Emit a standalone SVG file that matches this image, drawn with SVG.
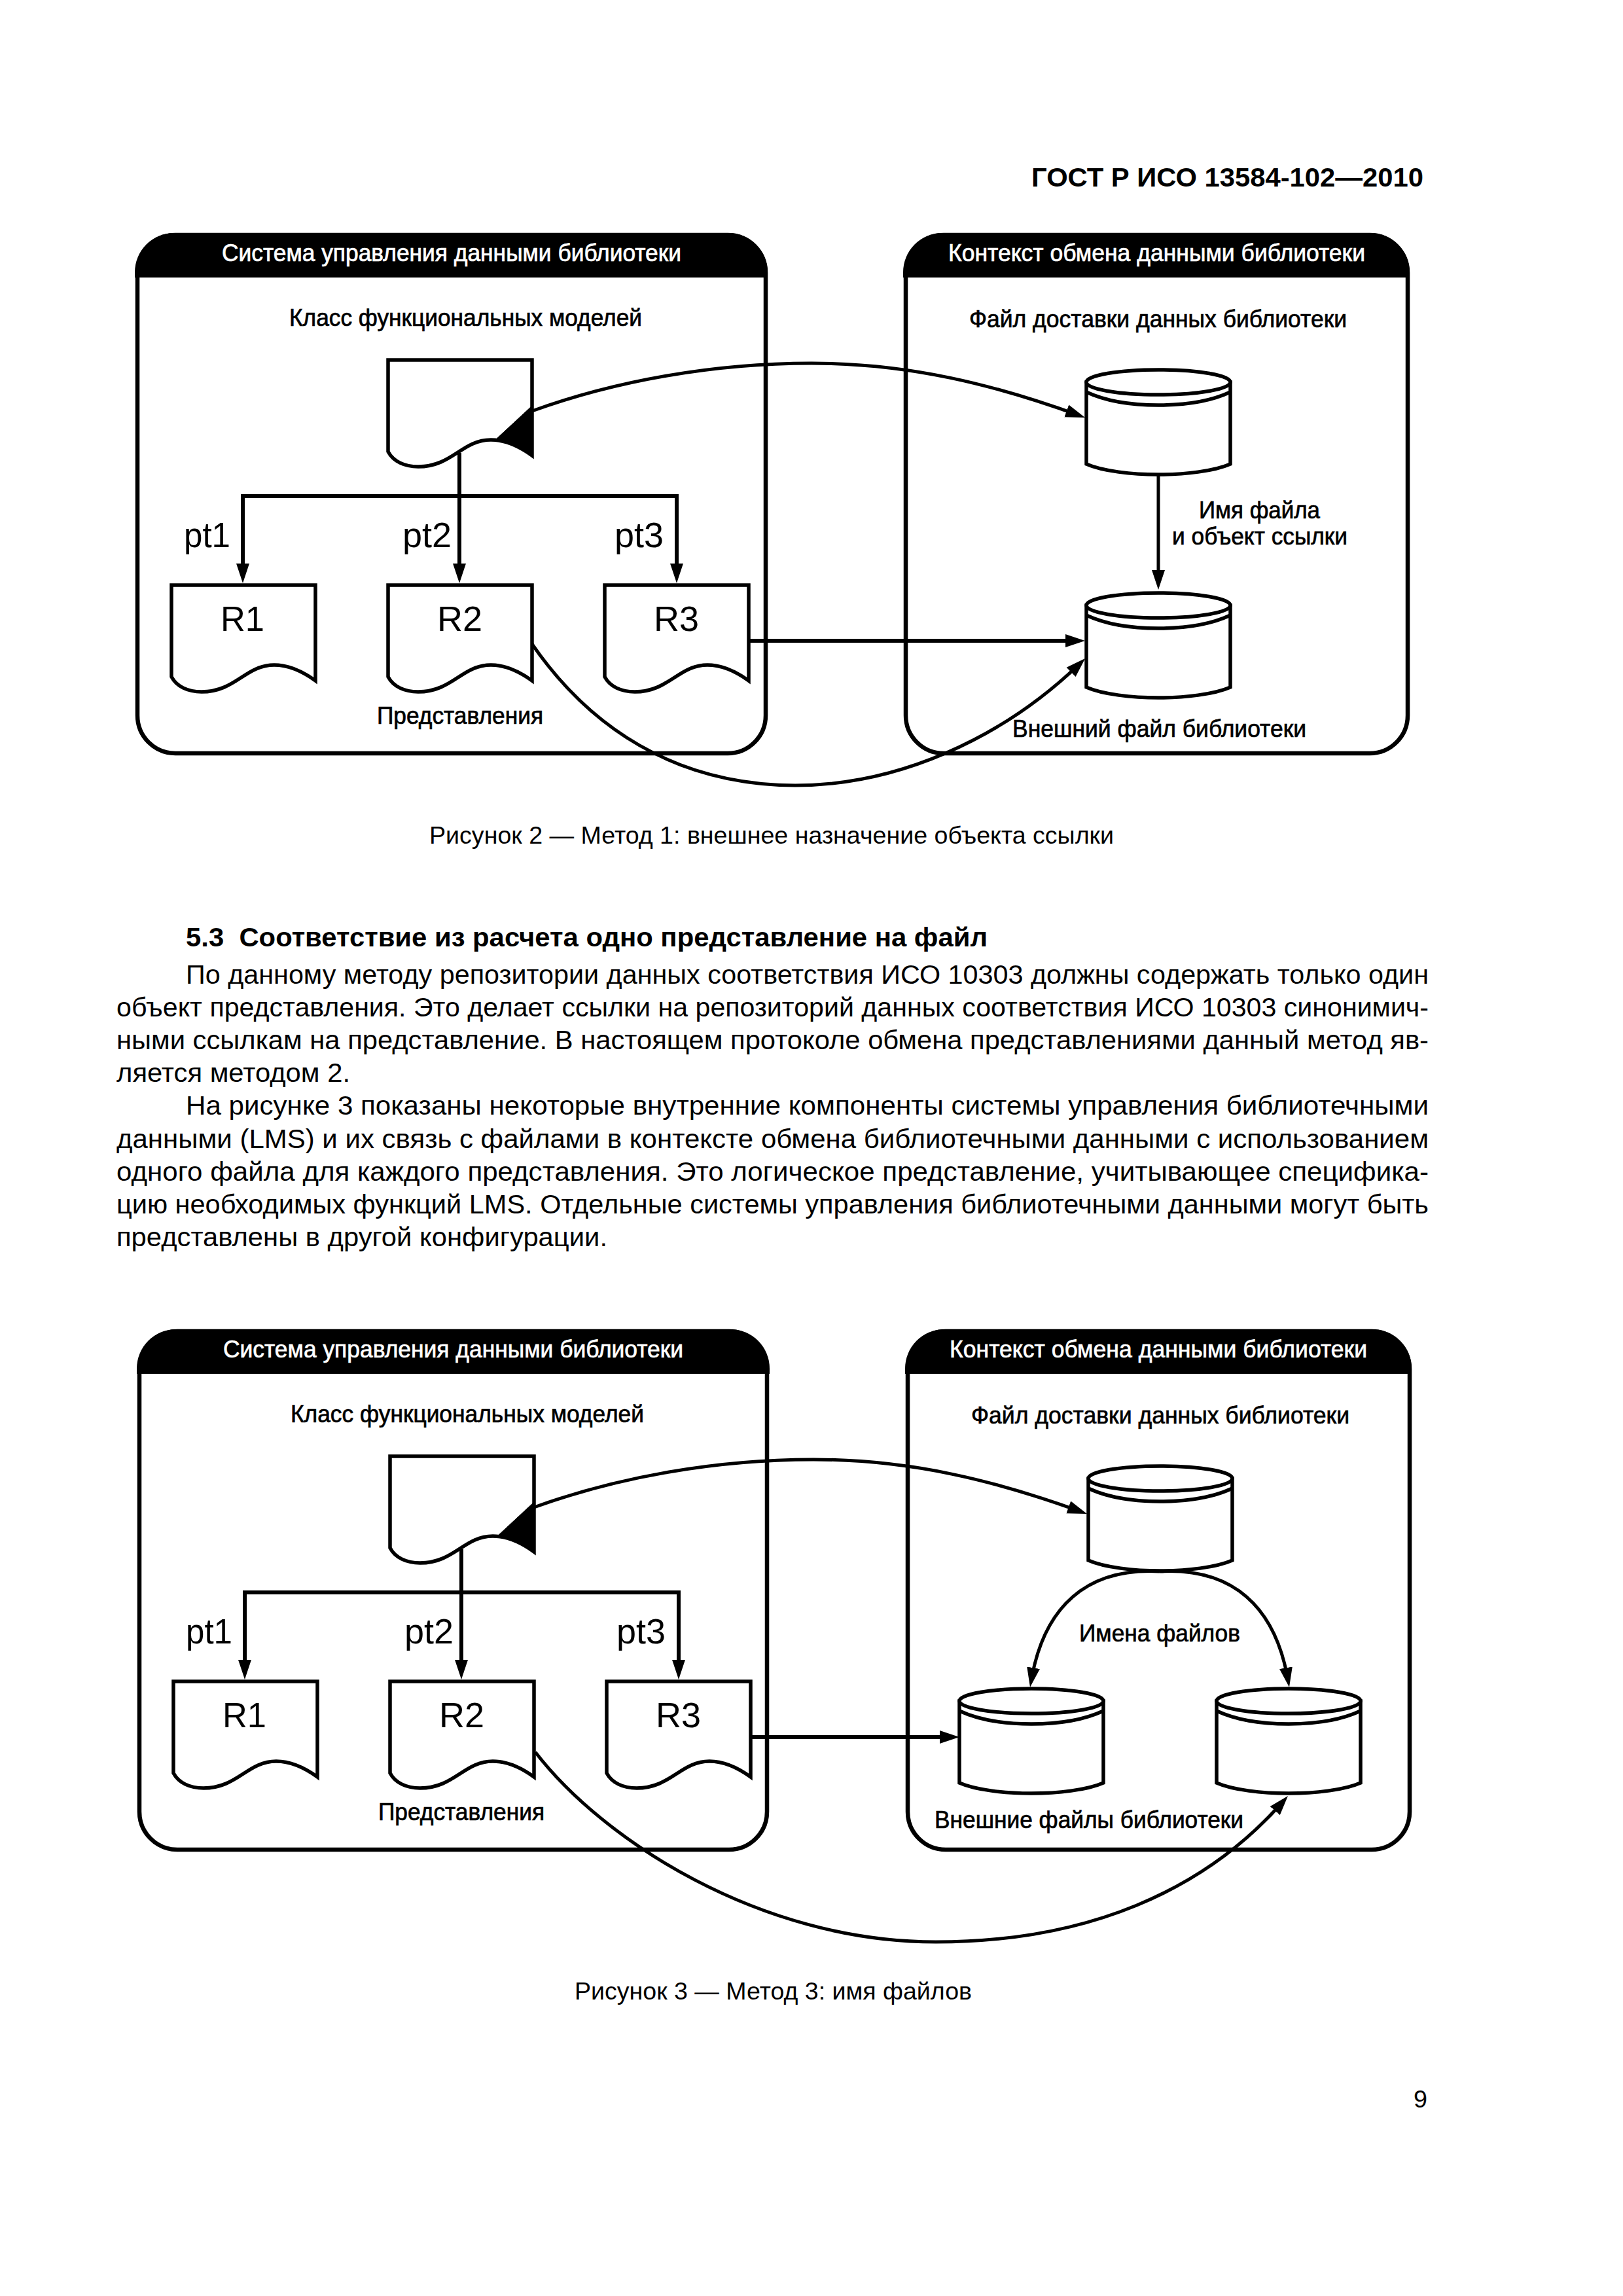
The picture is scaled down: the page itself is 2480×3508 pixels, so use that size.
<svg xmlns="http://www.w3.org/2000/svg" width="2480" height="3508" viewBox="0 0 2480 3508">
<style>
text{font-family:"Liberation Sans",Arial,sans-serif;fill:#000}
.b{font-size:41px}
.h{font-size:41px;font-weight:bold}
.c{font-size:37px}
.t{font-size:37px;stroke:#000;stroke-width:.7}
.w{fill:#fff;stroke:#fff}
.big{font-size:54px}
.box{fill:#fff;stroke:#000;stroke-width:6.5}
.hd{fill:#000}
.doc,.cyl{fill:#fff;stroke:#000;stroke-width:5.5;stroke-linejoin:miter}
.cl{fill:none;stroke:#000;stroke-width:5.5}
.ln{fill:none;stroke:#000;stroke-width:5;marker-end:url(#arr)}
.thick{stroke-width:6}
.tree{fill:none;stroke:#000;stroke-width:6}
.tri{fill:#000;stroke:#000;stroke-width:1}
</style>
<defs>
<marker id="arr" markerUnits="userSpaceOnUse" markerWidth="34" markerHeight="24" viewBox="0 -12 34 24" refX="20" refY="0" orient="auto"><path d="M0,-10 L30,0 L0,10 Z" fill="#000"/></marker>
<path id="docshape" class="doc" d="M0,0 H220 V146 C198,130 178,122 157,122 C113,122 98,163 46,163 C25,163 8,155 0,140 Z"/>
<g id="cylshape"><path class="cyl" d="M0,19 V144 C25,155 70,160 110,160 C150,160 195,155 220,144 V19 Z"/><ellipse class="cyl" cx="110" cy="19" rx="110" ry="19"/><path class="cl" d="M0,34 C30,48 70,54 110,54 C150,54 190,48 220,34"/></g>
<path id="hdshapeA" class="hd" d="M0,68 V60 A60,60 0 0 1 60,0 H907 A60,60 0 0 1 967,60 V68 Z"/>
<path id="hdshapeB" class="hd" d="M0,68 V60 A60,60 0 0 1 60,0 H714 A60,60 0 0 1 774,60 V68 Z"/>
</defs>
<rect width="2480" height="3508" fill="#fff"/>

<g id="page-header"><text class="h" x="1576" y="285" textLength="599" lengthAdjust="spacingAndGlyphs">ГОСТ Р ИСО 13584-102—2010</text></g>

<g id="fig2-lms"><rect class="box" x="210" y="359" width="960" height="792" rx="58"/><use href="#hdshapeA" x="206" y="356"/>
<text class="t w" x="339" y="399" textLength="702" lengthAdjust="spacingAndGlyphs">Система управления данными библиотеки</text>
<text class="t" x="442" y="498" textLength="539" lengthAdjust="spacingAndGlyphs">Класс функциональных моделей</text>
<text class="t" x="576" y="1106" textLength="254" lengthAdjust="spacingAndGlyphs">Представления</text></g>
<g id="fig2-ctx"><rect class="box" x="1384" y="359" width="767" height="792" rx="58"/><use href="#hdshapeB" x="1380" y="356"/>
<text class="t w" x="1449" y="399" textLength="637" lengthAdjust="spacingAndGlyphs">Контекст обмена данными библиотеки</text>
<text class="t" x="1481" y="500" textLength="577" lengthAdjust="spacingAndGlyphs">Файл доставки данных библиотеки</text>
<text class="t" x="1547" y="1126" textLength="449" lengthAdjust="spacingAndGlyphs">Внешний файл библиотеки</text>
<text class="t" x="1832" y="792" textLength="185" lengthAdjust="spacingAndGlyphs">Имя файла</text>
<text class="t" x="1791" y="832" textLength="268" lengthAdjust="spacingAndGlyphs">и объект ссылки</text></g>
<g id="fig2-class"><use href="#docshape" x="593" y="550"/></g>
<g id="fig2-r1"><use href="#docshape" x="262" y="894"/><text class="big" x="337" y="964" textLength="67" lengthAdjust="spacingAndGlyphs">R1</text></g>
<g id="fig2-r2"><use href="#docshape" x="593" y="894"/><text class="big" x="668" y="964" textLength="69" lengthAdjust="spacingAndGlyphs">R2</text></g>
<g id="fig2-r3"><use href="#docshape" x="924" y="894"/><text class="big" x="999" y="964" textLength="69" lengthAdjust="spacingAndGlyphs">R3</text></g>
<g id="fig2-delivery"><use href="#cylshape" x="1660" y="565"/></g>
<g id="fig2-external"><use href="#cylshape" x="1660" y="906"/></g>
<g id="fig2-connectors">
<path class="tree" d="M371,881 V758 H1034 V881 M702,692 V881"/>
<path class="ln" d="M371,875 V881"/><path class="ln" d="M702,875 V881"/><path class="ln" d="M1034,875 V881"/>
<path class="tri" d="M813,620 L757,672 C775,672 795,680 813,696 Z"/>
<path class="ln" d="M813,628 C940,582 1090,555 1240,555 C1390,555 1520,588 1648.6,634.6"/>
<path class="ln" d="M1770,726 V891"/>
<path class="ln thick" d="M1144,979 H1648"/>
<path class="ln" d="M813,984 C900,1110 1030,1199 1215,1200 C1370,1200 1530,1130 1651,1013"/>
</g>
<g id="fig2-labels"><text class="big" x="281" y="836" textLength="71" lengthAdjust="spacingAndGlyphs">pt1</text>
<text class="big" x="615" y="836" textLength="75" lengthAdjust="spacingAndGlyphs">pt2</text>
<text class="big" x="939" y="836" textLength="75" lengthAdjust="spacingAndGlyphs">pt3</text></g>
<g id="caption-2"><text class="c" x="656" y="1289" textLength="1046" lengthAdjust="spacingAndGlyphs">Рисунок 2 — Метод 1: внешнее назначение объекта ссылки</text></g>

<g id="body">
<text class="h" x="284" y="1446" textLength="1225" lengthAdjust="spacingAndGlyphs" xml:space="preserve">5.3  Соответствие из расчета одно представление на файл</text>
<text class="b" x="284" y="1503" textLength="1899" lengthAdjust="spacingAndGlyphs">По данному методу репозитории данных соответствия ИСО 10303 должны содержать только один</text>
<text class="b" x="178" y="1553" textLength="2005" lengthAdjust="spacingAndGlyphs">объект представления. Это делает ссылки на репозиторий данных соответствия ИСО 10303 синонимич-</text>
<text class="b" x="178" y="1603" textLength="2005" lengthAdjust="spacingAndGlyphs">ными ссылкам на представление. В настоящем протоколе обмена представлениями данный метод яв-</text>
<text class="b" x="178" y="1653" textLength="357" lengthAdjust="spacingAndGlyphs">ляется методом 2.</text>
<text class="b" x="284" y="1703" textLength="1899" lengthAdjust="spacingAndGlyphs">На рисунке 3 показаны некоторые внутренние компоненты системы управления библиотечными</text>
<text class="b" x="178" y="1753.5" textLength="2005" lengthAdjust="spacingAndGlyphs">данными (LMS) и их связь с файлами в контексте обмена библиотечными данными с использованием</text>
<text class="b" x="178" y="1803.5" textLength="2005" lengthAdjust="spacingAndGlyphs">одного файла для каждого представления. Это логическое представление, учитывающее специфика-</text>
<text class="b" x="178" y="1853.5" textLength="2005" lengthAdjust="spacingAndGlyphs">цию необходимых функций LMS. Отдельные системы управления библиотечными данными могут быть</text>
<text class="b" x="178" y="1903.5" textLength="750" lengthAdjust="spacingAndGlyphs">представлены в другой конфигурации.</text>
</g>

<g id="fig3-lms"><rect class="box" x="213" y="2034" width="959" height="792" rx="58"/><use href="#hdshapeA" x="209" y="2031"/>
<text class="t w" x="341" y="2074" textLength="703" lengthAdjust="spacingAndGlyphs">Система управления данными библиотеки</text>
<text class="t" x="444" y="2173" textLength="540" lengthAdjust="spacingAndGlyphs">Класс функциональных моделей</text>
<text class="t" x="578" y="2781" textLength="254" lengthAdjust="spacingAndGlyphs">Представления</text></g>
<g id="fig3-ctx"><rect class="box" x="1387" y="2034" width="767" height="792" rx="58"/><use href="#hdshapeB" x="1383" y="2031"/>
<text class="t w" x="1451" y="2074" textLength="638" lengthAdjust="spacingAndGlyphs">Контекст обмена данными библиотеки</text>
<text class="t" x="1484" y="2175" textLength="578" lengthAdjust="spacingAndGlyphs">Файл доставки данных библиотеки</text>
<text class="t" x="1649" y="2508" textLength="246" lengthAdjust="spacingAndGlyphs">Имена файлов</text>
<text class="t" x="1428" y="2793" textLength="472" lengthAdjust="spacingAndGlyphs">Внешние файлы библиотеки</text></g>
<g id="fig3-class"><use href="#docshape" x="596" y="2225"/></g>
<g id="fig3-r1"><use href="#docshape" x="265" y="2569"/><text class="big" x="340" y="2639" textLength="67" lengthAdjust="spacingAndGlyphs">R1</text></g>
<g id="fig3-r2"><use href="#docshape" x="596" y="2569"/><text class="big" x="671" y="2639" textLength="69" lengthAdjust="spacingAndGlyphs">R2</text></g>
<g id="fig3-r3"><use href="#docshape" x="927" y="2569"/><text class="big" x="1002" y="2639" textLength="69" lengthAdjust="spacingAndGlyphs">R3</text></g>
<g id="fig3-delivery"><use href="#cylshape" x="1663" y="2240"/></g>
<g id="fig3-ext1"><use href="#cylshape" x="1466" y="2580"/></g>
<g id="fig3-ext2"><use href="#cylshape" x="1859" y="2580"/></g>
<g id="fig3-connectors">
<path class="tree" d="M374,2556 V2433 H1037 V2556 M705,2367 V2556"/>
<path class="ln" d="M374,2550 V2556"/><path class="ln" d="M705,2550 V2556"/><path class="ln" d="M1037,2550 V2556"/>
<path class="tri" d="M816,2295 L760,2347 C778,2347 798,2355 816,2371 Z"/>
<path class="ln" d="M816,2303 C943,2257 1093,2230 1243,2230 C1393,2230 1523,2263 1651.6,2309.6"/>
<path class="ln" d="M1772,2401 C1660,2395 1595,2455 1575.7,2568"/>
<path class="ln" d="M1772,2401 C1884,2395 1949,2455 1968.3,2568"/>
<path class="ln thick" d="M1147,2654 H1456"/>
<path class="ln" d="M818,2677 C920,2810 1160,2967 1430,2967 C1660,2967 1840,2890 1961.4,2751.5"/>
</g>
<g id="fig3-labels"><text class="big" x="284" y="2511" textLength="71" lengthAdjust="spacingAndGlyphs">pt1</text>
<text class="big" x="618" y="2511" textLength="75" lengthAdjust="spacingAndGlyphs">pt2</text>
<text class="big" x="942" y="2511" textLength="75" lengthAdjust="spacingAndGlyphs">pt3</text></g>
<g id="caption-3"><text class="c" x="878" y="3055" textLength="607" lengthAdjust="spacingAndGlyphs">Рисунок 3 — Метод 3: имя файлов</text></g>
<g id="page-number"><text class="c" x="2160" y="3220" textLength="21" lengthAdjust="spacingAndGlyphs">9</text></g>
</svg>
